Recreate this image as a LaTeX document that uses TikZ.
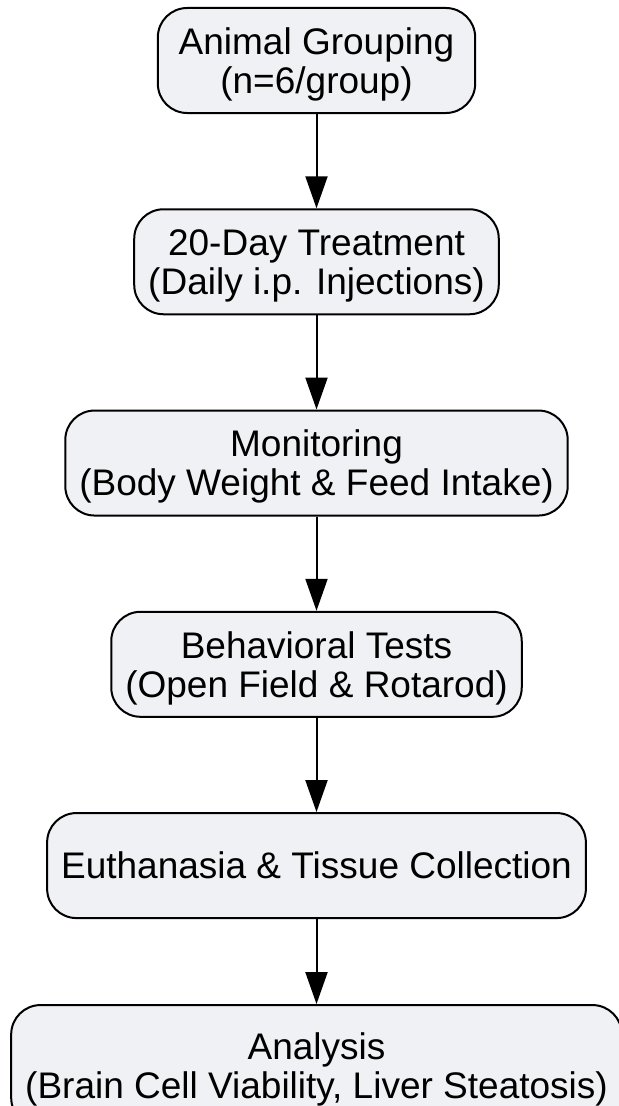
\documentclass[tikz,border=0pt]{standalone}
\usepackage{fontspec}
\setmainfont{Liberation Sans}
\usetikzlibrary{arrows.meta,positioning}

\definecolor{boxgray}{RGB}{240,241,244}

\begin{document}
\begin{tikzpicture}[x=0.75pt, y=0.75pt, node distance=70.7pt,
    step box/.style={draw, line width=1.5pt, fill=boxgray, rounded corners=22pt, align=center,
        minimum height=78.75pt, inner xsep=10.5pt, text depth=0pt, font=\fontsize{27.75}{29.25}\selectfont},
    arrow/.style={line width=1.5pt, -{Triangle[length=24pt, width=16.5pt]}}]

        \useasboundingbox (0,0) rectangle (618,-1106);

        % Steps
        \node [step box, minimum width=238pt] (grouping) at (316.5,-60.5) {Animal Grouping\\(n=6/group)};
        \node [step box, below=of grouping] (treatment) {20-Day Treatment\\(Daily i.p. Injections)};
        \node [step box, below=of treatment] (monitoring) {Monitoring\\(Body Weight \& Feed Intake)};
        \node [step box, below=of monitoring] (behavior) {Behavioral Tests\\(Open Field \& Rotarod)};
        \node [step box, below=of behavior] (euthanasia) {Euthanasia \& Tissue Collection};
        \node [step box, minimum height=91.5pt, below=63.75pt of euthanasia] (analysis) {Analysis\\(Brain Cell Viability, Liver Steatosis)};

        % Arrows
        \draw [arrow] (grouping) -- (treatment);
        \draw [arrow] (treatment) -- (monitoring);
        \draw [arrow] (monitoring) -- (behavior);
        \draw [arrow] (behavior) -- (euthanasia);
        \draw [arrow] (euthanasia) -- (analysis);

    \end{tikzpicture}
\end{document}
